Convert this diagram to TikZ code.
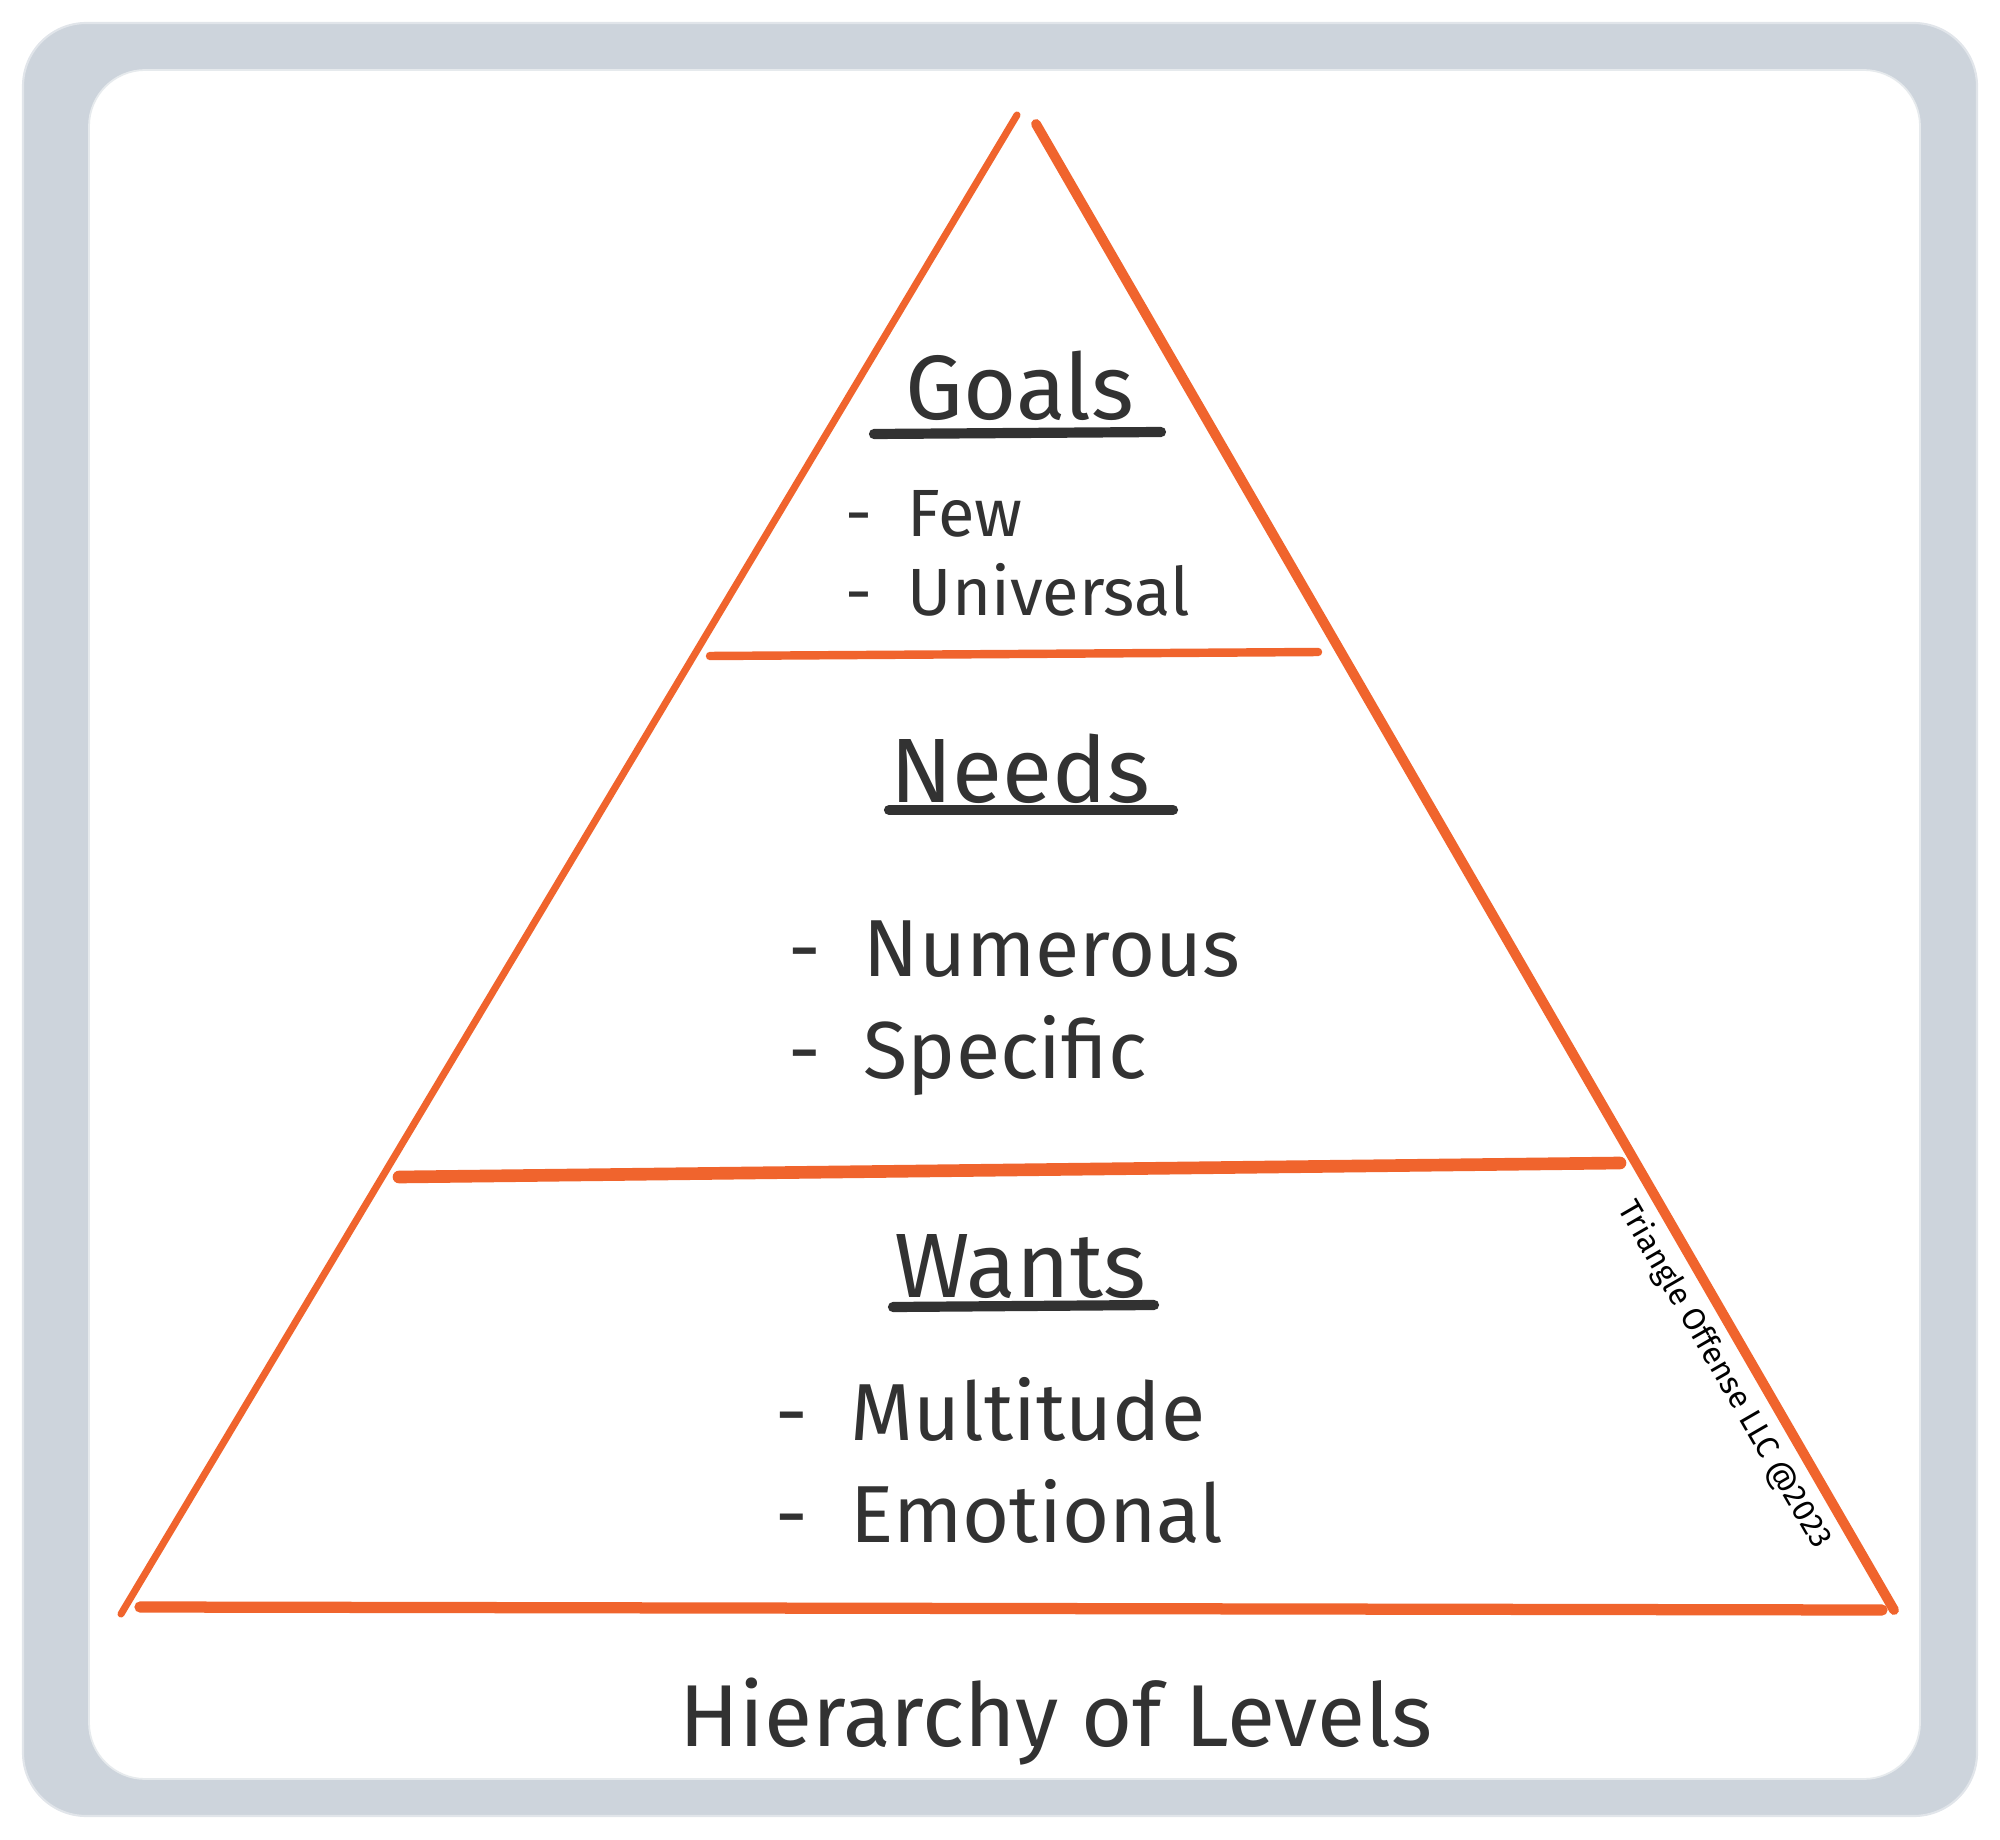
\documentclass[tikz,border=0pt]{standalone}
\usepackage{fontspec}
\setmainfont{Fira Sans}
\usetikzlibrary{positioning}
\definecolor{framegray}{RGB}{205,212,220}
\definecolor{pyrorange}{RGB}{240,100,45}
\definecolor{inkgray}{RGB}{50,50,50}
\tikzset{
  edge/.style={draw=pyrorange, line cap=round},
  heading/.style={text=inkgray, font=\fontsize{26}{30}\selectfont},
  itemlist/.style={text=inkgray, align=left, anchor=west},
  uline/.style={draw=inkgray, line width=2.9pt, line cap=round}
}
\begin{document}
\begin{tikzpicture}[x=0.01cm,y=-0.01cm]
	\useasboundingbox (0,0) rectangle (2000,1840);
	% frame
	\fill[framegray, draw=framegray!60, line width=0.6pt, rounded corners=18pt] (23,23) rectangle (1977,1816);
	\fill[white, draw=framegray!50, line width=0.5pt, rounded corners=16pt] (89,70) rectangle (1920,1779);
	% triangle corners
	\coordinate (apexL) at (1017,115);
	\coordinate (baseL) at (121,1614);
	\coordinate (apexR) at (1036,124);
	\coordinate (baseR) at (1894,1610);
	\coordinate (top1) at (710,656);
	\coordinate (top2) at (1318,652);
	\coordinate (mid1) at (399,1177);
	\coordinate (mid2) at (1620,1163);
	\coordinate (bot1) at (140,1607);
	\coordinate (bot2) at (1882,1610);
	\path
	(apexL) edge [edge, line width=2pt] (baseL)
	(apexR) edge [edge, line width=2.8pt] (baseR)
	(top1) edge [edge, line width=2.4pt] (top2)
	(mid1) edge [edge, line width=3.6pt] (mid2)
	(bot1) edge [edge, line width=3.2pt] (bot2);
	% levels
	\node[heading] (goals) at (1020,386) {Goals};
	\node[itemlist, font=\fontsize{19}{22.5}\selectfont] (fewlist) at (833,553) {-\ \ Few\\-\ \ Universal};
	\node[heading] (needs) at (1020,769) {Needs};
	\node[itemlist, font=\fontsize{23}{29}\selectfont] (needlist) at (776,1008) {-\ \ Numerous\\-\ \ Specific};
	\node[heading] (wants) at (1020,1267) {Wants};
	\node[itemlist, font=\fontsize{23}{29}\selectfont] (wantlist) at (763,1460) {-\ \ Multitude\\-\ \ Emotional};
	\draw[uline] (874,434) -- (1161,432);
	\draw[uline] (889,810) -- (1173,810);
	\draw[uline] (893,1307) -- (1154,1305);
	% caption and mark
	\node[text=inkgray, font=\fontsize{25}{30}\selectfont] (title) at (1056,1722) {Hierarchy of Levels};
	\node[text=black, rotate=-60, font=\fontsize{9}{11}\selectfont] (mark) at (1724,1375) {Triangle Offense LLC @2023};
\end{tikzpicture}
\end{document}
